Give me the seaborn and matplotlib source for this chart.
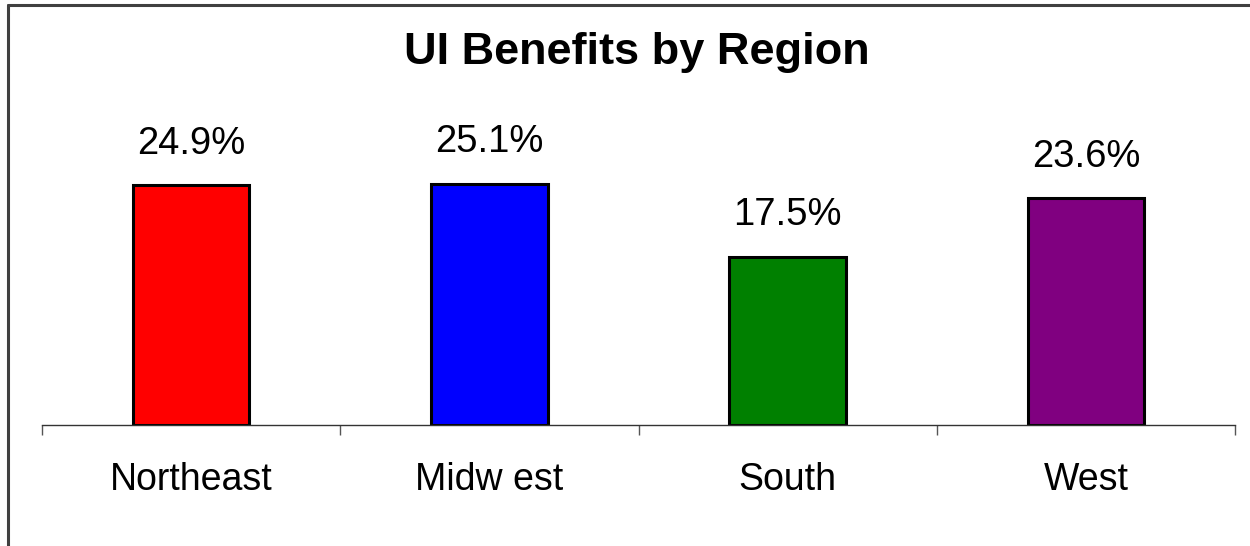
#!/usr/bin/env python
"""
Bar chart of UI benefits by region.
"""

# ---------- PREP
import numpy as np
import pandas as pd
import seaborn as sns
import matplotlib.pyplot as plt
from matplotlib.lines import Line2D

# ---------- DATA
regions = ["Northeast", "Midw est", "South", "West"]
benefit_pct = [24.9, 25.1, 17.5, 23.6]
bar_colors = ["#FF0000", "#0000FF", "#008000", "#800080"]

df = pd.DataFrame({"region": regions, "pct": benefit_pct})

# ---------- THEME
sns.set_theme(style="white")
plt.rcParams['font.family'] = ['Liberation Sans', 'DejaVu Sans']
plt.rcParams['text.color'] = 'black'
plt.rcParams['xtick.color'] = 'black'

# ---------- PLOT
fig = plt.figure(figsize=(12.5, 5.46), dpi=100)
ax = fig.add_axes([42 / 1250, 121 / 546, 1193 / 1250, 288.6 / 546])

sns.barplot(
    data=df,
    x="region",
    y="pct",
    hue="region",
    palette=bar_colors,
    legend=False,
    dodge=False,
    width=0.39,
    saturation=1,
    edgecolor="black",
    linewidth=2.2,
    ax=ax
)

ax.set_xlim(-0.5, len(regions) - 0.5)
ax.set_ylim(0, 30)
ax.set_xlabel("")
ax.set_ylabel("")
ax.set_yticks([])

# Category labels on major ticks, separators on minor ticks
ax.set_xticks(range(len(regions)))
ax.set_xticklabels(regions, fontsize=27, color="black")
ax.set_xticks(np.arange(-0.5, len(regions)), minor=True)
ax.tick_params(axis="x", which="major", length=0, pad=27)
ax.tick_params(axis="x", which="minor", bottom=True, length=7, width=1, color="#555555")

for side in ["left", "right", "top"]:
    ax.spines[side].set_visible(False)
ax.spines["bottom"].set_color("#333333")
ax.spines["bottom"].set_linewidth(1)

# Value labels above each bar
for bar in ax.patches:
    h = bar.get_height()
    if np.isnan(h) or h == 0:
        continue
    ax.annotate(f"{h:.1f}%", (bar.get_x() + bar.get_width() / 2, h),
                xytext=(0, 22.5), textcoords="offset points",
                ha="center", va="baseline", fontsize=27.5, color="black")

# Title
fig.text(637 / 1250, 1 - 64 / 546, "UI Benefits by Region",
         ha="center", va="baseline", fontsize=32.5, weight="bold", color="black")

# Frame lines (left and top only)
frame_kw = dict(transform=fig.transFigure, color="#404040", linewidth=2.2)
fig.add_artist(Line2D([8 / 1250, 8 / 1250], [0, 1 - 5 / 546], **frame_kw))
fig.add_artist(Line2D([8 / 1250, 1], [1 - 5 / 546, 1 - 5 / 546], **frame_kw))

plt.savefig("out.png", dpi=100)
